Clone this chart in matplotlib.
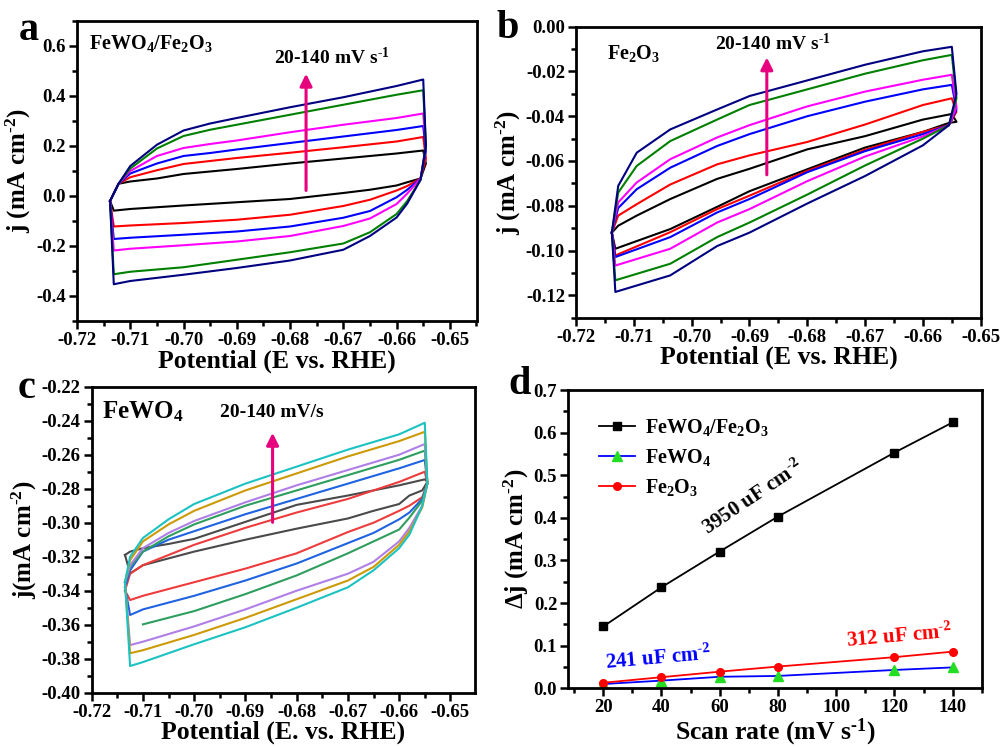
import numpy as np
import matplotlib
matplotlib.use('Agg')
import matplotlib.pyplot as plt
from matplotlib.ticker import MultipleLocator, FormatStrFormatter

plt.rcParams['font.family'] = ['Liberation Serif', 'DejaVu Serif']
plt.rcParams['font.weight'] = 'bold'
plt.rcParams['axes.unicode_minus'] = False
plt.rcParams['mathtext.fontset'] = 'custom'
plt.rcParams['mathtext.rm'] = 'Liberation Serif:bold'
plt.rcParams['mathtext.it'] = 'Liberation Serif:bold'
plt.rcParams['mathtext.bf'] = 'Liberation Serif:bold'

# ---------------- Panel a : FeWO4/Fe2O3 CV loops ----------------
E_up_a = [-0.7138, -0.7122, -0.710, -0.705, -0.700, -0.695, -0.690, -0.680, -0.670, -0.660, -0.655]
E_dn_a = [-0.6545, -0.6555, -0.658, -0.660, -0.665, -0.670, -0.680, -0.690, -0.700, -0.710, -0.7131]
a_black_up = [-0.02, 0.049, 0.058, 0.070, 0.088, 0.098, 0.108, 0.130, 0.150, 0.170, 0.182]
a_black_dn = [0.13, 0.07, 0.055, 0.042, 0.025, 0.012, -0.012, -0.025, -0.038, -0.052, -0.0586]
a_red_up = [-0.02, 0.049, 0.075, 0.103, 0.128, 0.140, 0.152, 0.173, 0.195, 0.218, 0.236]
a_red_dn = [0.15, 0.07, 0.04, 0.022, -0.015, -0.040, -0.075, -0.095, -0.108, -0.118, -0.122]
a_blue_up = [-0.02, 0.049, 0.090, 0.130, 0.160, 0.172, 0.186, 0.212, 0.238, 0.264, 0.280]
a_blue_dn = [0.18, 0.07, 0.025, -0.005, -0.060, -0.087, -0.122, -0.142, -0.155, -0.167, -0.172]
a_mag_up = [-0.02, 0.049, 0.100, 0.160, 0.192, 0.208, 0.222, 0.255, 0.285, 0.312, 0.330]
a_mag_dn = [0.20, 0.07, 0.01, -0.032, -0.090, -0.120, -0.160, -0.182, -0.197, -0.211, -0.218]
a_green_up = [-0.02, 0.049, 0.110, 0.190, 0.240, 0.265, 0.285, 0.325, 0.365, 0.405, 0.423]
a_green_dn = [0.20, 0.065, -0.02, -0.072, -0.145, -0.190, -0.225, -0.255, -0.285, -0.303, -0.313]
a_navy_up = [-0.02, 0.049, 0.120, 0.205, 0.262, 0.290, 0.312, 0.355, 0.395, 0.440, 0.466]
a_navy_dn = [0.20, 0.065, -0.03, -0.086, -0.160, -0.215, -0.258, -0.288, -0.315, -0.340, -0.353]

# ---------------- Panel b : Fe2O3 CV loops ----------------
E_up_b = [-0.7138, -0.7127, -0.7095, -0.7037, -0.6956, -0.690, -0.680, -0.670, -0.660, -0.655]
E_dn_b = [-0.6542, -0.6555, -0.660, -0.670, -0.680, -0.690, -0.6956, -0.7037, -0.7132]
b_black_up = [-0.092, -0.0889, -0.0844, -0.077, -0.068, -0.0635, -0.0548, -0.0489, -0.0415, -0.039]
b_black_dn = [-0.0425, -0.043, -0.047, -0.054, -0.0637, -0.0735, -0.0805, -0.0904, -0.0992]
b_red_up = [-0.092, -0.0844, -0.0793, -0.0705, -0.0615, -0.0575, -0.0515, -0.0437, -0.035, -0.032]
b_red_dn = [-0.038, -0.044, -0.047, -0.055, -0.0644, -0.0755, -0.0815, -0.0918, -0.1022]
b_blue_up = [-0.092, -0.081, -0.0726, -0.063, -0.0533, -0.048, -0.040, -0.0335, -0.028, -0.026]
b_blue_dn = [-0.037, -0.044, -0.048, -0.0556, -0.065, -0.077, -0.083, -0.094, -0.1029]
b_mag_up = [-0.092, -0.0785, -0.0696, -0.0592, -0.0495, -0.044, -0.0356, -0.029, -0.0237, -0.0215]
b_mag_dn = [-0.036, -0.044, -0.049, -0.058, -0.069, -0.0815, -0.0875, -0.0992, -0.1067]
b_green_up = [-0.092, -0.0741, -0.0622, -0.0511, -0.0415, -0.035, -0.028, -0.021, -0.015, -0.0126]
b_green_dn = [-0.032, -0.044, -0.050, -0.062, -0.075, -0.0875, -0.094, -0.1059, -0.1133]
b_navy_up = [-0.092, -0.0711, -0.0563, -0.0459, -0.037, -0.031, -0.024, -0.017, -0.011, -0.009]
b_navy_dn = [-0.030, -0.044, -0.053, -0.0667, -0.079, -0.092, -0.098, -0.1111, -0.1185]

# ---------------- Panel c : FeWO4 CV loops ----------------
E_up_c = [-0.7135, -0.7125, -0.710, -0.705, -0.700, -0.690, -0.680, -0.670, -0.660, -0.655]
E_dn_c = [-0.6545, -0.6555, -0.658, -0.660, -0.665, -0.670, -0.680, -0.690, -0.700, -0.710, -0.7125]
c_gray_up = [-0.319, -0.317, -0.315, -0.3125, -0.3095, -0.2995, -0.2895, -0.284, -0.278, -0.2745]
c_gray_dn = [-0.276, -0.281, -0.284, -0.289, -0.293, -0.2975, -0.3035, -0.310, -0.317, -0.325, -0.3298]
c_red_up = [-0.340, -0.330, -0.325, -0.319, -0.313, -0.303, -0.294, -0.286, -0.276, -0.270]
c_red_dn = [-0.277, -0.285, -0.290, -0.293, -0.300, -0.3055, -0.318, -0.327, -0.335, -0.343, -0.3455]
c_blue_up = [-0.338, -0.328, -0.317, -0.310, -0.305, -0.295, -0.286, -0.277, -0.268, -0.2631]
c_blue_dn = [-0.277, -0.286, -0.294, -0.298, -0.306, -0.312, -0.324, -0.334, -0.343, -0.351, -0.3543]
c_green_up = [-0.335, -0.326, -0.317, -0.308, -0.301, -0.290, -0.281, -0.272, -0.263, -0.2576]
c_green_dn = [-0.277, -0.287, -0.297, -0.304, -0.311, -0.318, -0.331, -0.342, -0.352, -0.3598, np.nan]
c_violet_up = [-0.335, -0.325, -0.315, -0.306, -0.299, -0.288, -0.278, -0.269, -0.260, -0.2537]
c_violet_dn = [-0.277, -0.290, -0.303, -0.311, -0.323, -0.330, -0.340, -0.351, -0.361, -0.370, -0.372]
c_gold_up = [-0.335, -0.322, -0.311, -0.301, -0.293, -0.281, -0.271, -0.261, -0.252, -0.2465]
c_gold_dn = [-0.277, -0.291, -0.305, -0.313, -0.326, -0.334, -0.345, -0.356, -0.366, -0.375, -0.3768]
c_cyan_up = [-0.335, -0.320, -0.309, -0.298, -0.289, -0.277, -0.267, -0.257, -0.248, -0.2412]
c_cyan_dn = [-0.277, -0.290, -0.307, -0.315, -0.328, -0.338, -0.350, -0.3615, -0.3715, -0.382, -0.3843]

# ---------------- Panel d : delta j vs scan rate ----------------
scan_rate = [20, 40, 60, 80, 120, 140]
dj_composite = [0.145, 0.237, 0.321, 0.403, 0.553, 0.624]
dj_fewo4 = [0.010, 0.018, 0.027, 0.029, 0.043, 0.049]
dj_fe2o3 = [0.013, 0.026, 0.039, 0.051, 0.073, 0.086]

PINK = '#E6007E'
HY = '\u2010'  # typographic hyphen used in the superscripts

fig = plt.figure(figsize=(10.03, 7.47), dpi=100)


def style(ax, xmaj, xmin, ymaj, ymin, xfmt, yfmt):
    for s in ax.spines.values():
        s.set_linewidth(2.0)
    ax.xaxis.set_major_locator(MultipleLocator(xmaj))
    ax.xaxis.set_minor_locator(MultipleLocator(xmin))
    ax.yaxis.set_major_locator(MultipleLocator(ymaj))
    ax.yaxis.set_minor_locator(MultipleLocator(ymin))
    ax.xaxis.set_major_formatter(FormatStrFormatter(xfmt))
    ax.yaxis.set_major_formatter(FormatStrFormatter(yfmt))
    ax.tick_params(which='both', direction='out', width=1.8, top=False, right=False,
                   labelsize=13.5, pad=2)
    ax.tick_params(which='major', length=6)
    ax.tick_params(which='minor', length=3.5)
    for lab in ax.get_xticklabels() + ax.get_yticklabels():
        lab.set_fontweight('bold')


def loop(ax, eu, ed, up, dn, color):
    x = list(eu) + list(ed) + [eu[0]]
    y = list(up) + list(dn) + [up[0]]
    ax.plot(x, y, color=color, lw=1.5)


cm2 = 'cm$^{' + HY + '2}$'
s1 = 's$^{' + HY + '1}$'

# ---- a ----
ax = fig.add_axes([0.0768, 0.5703, 0.3988, 0.4016])
for up, dn, c in [(a_black_up, a_black_dn, 'black'), (a_red_up, a_red_dn, 'red'),
                  (a_blue_up, a_blue_dn, 'blue'), (a_mag_up, a_mag_dn, 'magenta'),
                  (a_green_up, a_green_dn, 'green'), (a_navy_up, a_navy_dn, 'navy')]:
    loop(ax, E_up_a, E_dn_a, up, dn, c)
ax.set_xlim(-0.72, -0.6449)
ax.set_ylim(-0.5, 0.7)
style(ax, 0.01, 0.005, 0.2, 0.1, '%.2f', '%.1f')
ax.set_xlabel('Potential (E vs. RHE)', fontsize=18.5, fontweight='bold', labelpad=0)
ax.set_ylabel('j (mA ' + cm2 + ')', fontsize=18, fontweight='bold', labelpad=2)
ax.text(-0.7177, 0.61, 'FeWO$_4$/Fe$_2$O$_3$', fontsize=14.5, va='center', ha='left')
ax.text(-0.683, 0.554, '20-140 mV ' + s1, fontsize=14, va='center', ha='left')
ax.annotate('', xy=(-0.677, 0.50), xytext=(-0.677, 0.011),
            arrowprops=dict(arrowstyle='-|>', color=PINK, lw=2.2, mutation_scale=18))
fig.text(0.019, 0.947, 'a', fontsize=29, fontweight='bold', va='baseline')

# ---- b ----
ax = fig.add_axes([0.5743, 0.5747, 0.4035, 0.3896])
for up, dn, c in [(b_black_up, b_black_dn, 'black'), (b_red_up, b_red_dn, 'red'),
                  (b_blue_up, b_blue_dn, 'blue'), (b_mag_up, b_mag_dn, 'magenta'),
                  (b_green_up, b_green_dn, 'green'), (b_navy_up, b_navy_dn, 'navy')]:
    loop(ax, E_up_b, E_dn_b, up, dn, c)
ax.set_xlim(-0.72, -0.65)
ax.set_ylim(-0.13, 0.0)
style(ax, 0.01, 0.005, 0.02, 0.01, '%.2f', '%.2f')
ax.set_xlabel('Potential (E vs. RHE)', fontsize=18.5, fontweight='bold', labelpad=0)
ax.set_ylabel('j (mA ' + cm2 + ')', fontsize=18, fontweight='bold', labelpad=2)
ax.text(-0.7147, -0.0119, 'Fe$_2$O$_3$', fontsize=14.5, va='center', ha='left')
ax.text(-0.6959, -0.0074, '20-140 mV ' + s1, fontsize=14, va='center', ha='left')
ax.annotate('', xy=(-0.687, -0.0125), xytext=(-0.687, -0.0674),
            arrowprops=dict(arrowstyle='-|>', color=PINK, lw=2.2, mutation_scale=18))
fig.text(0.495, 0.949, 'b', fontsize=29, fontweight='bold', va='baseline')

# ---- c ----
ax = fig.add_axes([0.0914, 0.0727, 0.3822, 0.4096])
for up, dn, c in [(c_gray_up, c_gray_dn, '#4a4a4a'), (c_red_up, c_red_dn, '#ee3b3b'),
                  (c_blue_up, c_blue_dn, '#1f63e0'), (c_green_up, c_green_dn, '#2e9e5e'),
                  (c_violet_up, c_violet_dn, '#b07fe6'), (c_gold_up, c_gold_dn, '#cc9a06'),
                  (c_cyan_up, c_cyan_dn, '#1cc2c2')]:
    loop(ax, E_up_c, E_dn_c, up, dn, c)
ax.set_xlim(-0.72, -0.6452)
ax.set_ylim(-0.40, -0.22)
style(ax, 0.01, 0.005, 0.02, 0.01, '%.2f', '%.2f')
ax.set_xlabel('Potential (E. vs. RHE)', fontsize=18.5, fontweight='bold', labelpad=0)
ax.set_ylabel('j(mA ' + cm2 + ')', fontsize=18, fontweight='bold', labelpad=2)
ax.text(-0.718, -0.2347, 'FeWO$_4$', fontsize=18, va='center', ha='left')
ax.text(-0.6949, -0.2353, '20-140 mV/s', fontsize=14, va='center', ha='left')
ax.annotate('', xy=(-0.6847, -0.2455), xytext=(-0.6847, -0.3014),
            arrowprops=dict(arrowstyle='-|>', color=PINK, lw=2.2, mutation_scale=18))
fig.text(0.018, 0.467, 'c', fontsize=29, fontweight='bold', va='baseline')

# ---- d ----
ax = fig.add_axes([0.5666, 0.0786, 0.4122, 0.3993])
ax.plot(scan_rate, dj_composite, color='black', lw=1.3, marker='s', ms=5.5,
        label='FeWO$_4$/Fe$_2$O$_3$')
ax.plot(scan_rate, dj_fewo4, color='blue', lw=1.3, marker='^', ms=6.5,
        mfc='#22dd22', mec='#22dd22', label='FeWO$_4$')
ax.plot(scan_rate, dj_fe2o3, color='red', lw=1.3, marker='o', ms=5.5, label='Fe$_2$O$_3$')
ax.set_xlim(8, 150)
ax.set_ylim(0, 0.7)
style(ax, 20, 10, 0.1, 0.05, '%d', '%.1f')
ax.set_xlabel('Scan rate (mV ' + s1 + ')', fontsize=18.5, fontweight='bold', labelpad=0)
ax.set_ylabel('Δj (mA ' + cm2 + ')', fontsize=18, fontweight='bold', labelpad=2)
leg = ax.legend(loc='upper left', bbox_to_anchor=(0.03, 0.97), frameon=False,
                fontsize=14.5, handlelength=1.8, labelspacing=0.45, handletextpad=0.5)
ax.text(71.4, 0.446, '3950 uF ' + cm2, fontsize=15, rotation=34, ha='center',
        va='center', color='black')
ax.text(38.9, 0.070, '241 uF ' + cm2, fontsize=15, rotation=5, ha='center',
        va='center', color='blue')
ax.text(121.7, 0.121, '312 uF ' + cm2, fontsize=15, rotation=5, ha='center',
        va='center', color='red')
fig.text(0.507, 0.473, 'd', fontsize=29, fontweight='bold', va='baseline')

fig.savefig('out.png', dpi=100)
